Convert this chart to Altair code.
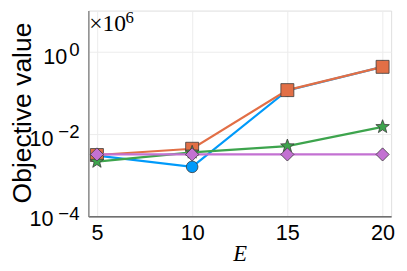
import altair as alt
import pandas as pd

# ---- data ----
E = [5, 10, 15, 20]
series_names = ["A", "B", "C", "D"]
blue = [3.0e-3, 1.6e-3, 0.115, 0.43]
orange = [3.1e-3, 4.4e-3, 0.117, 0.43]
green = [2.15e-3, 3.6e-3, 5.1e-3, 0.015]
purple = [3.2e-3, 3.2e-3, 3.2e-3, 3.2e-3]
series_values = [blue, orange, green, purple]

x_ticks = [5, 10, 15, 20]
y_tick_values = [1e-4, 1e-2, 1.0]
y_tick_base = "10"
y_tick_exponents = ["−4", "−2", "0"]
scale_note_base = "×10"
scale_note_exp = "6"

colors = ["#009AFA", "#E26F46", "#3DA44D", "#C371D2"]
STAR = ("M0,-1 L0.247,-0.340 L0.951,-0.309 L0.399,0.130 L0.588,0.809 "
        "L0,0.42 L-0.588,0.809 L-0.399,0.130 L-0.951,-0.309 L-0.247,-0.340 Z")
shapes = ["circle", "square", STAR, "diamond"]
sizes = [140, 175, 210, 180]

rows = []
for name, vals in zip(series_names, series_values):
    for e, v in zip(E, vals):
        rows.append({"E": e, "value": v, "series": name})
df = pd.DataFrame(rows)
ticks_df = pd.DataFrame({"value": y_tick_values, "exp": y_tick_exponents})
note_df = pd.DataFrame({"base": [scale_note_base], "exp": [scale_note_exp]})

SANS = "Liberation Sans"
SERIF = "Liberation Serif"

x_enc = alt.X("E:Q",
              scale=alt.Scale(domain=[4.55, 20.45], nice=False, zero=False),
              axis=alt.Axis(values=x_ticks, title="E", titleFont=SERIF,
                            titleFontStyle="italic", titleFontWeight="normal",
                            titleFontSize=23, titleY=45, titleBaseline="alphabetic",
                            titleColor="black",
                            labelFont=SANS, labelFontSize=22, labelColor="black",
                            labelPadding=7, ticks=False, tickSize=0,
                            domainColor="#222222", domainWidth=1,
                            gridColor="#ececec", gridWidth=1, labelFlush=False))
y_enc = alt.Y("value:Q",
              scale=alt.Scale(type="log", domain=[1e-4, 10], nice=False),
              axis=alt.Axis(values=y_tick_values, labelExpr=f"'{y_tick_base}'",
                            title="Objective value", titleFont=SANS,
                            titleFontSize=27, titleFontWeight="normal", titleColor="black",
                            titleX=-59, titleY=104, titleAngle=-90,
                            titleBaseline="alphabetic", titleAlign="center",
                            labelFont=SANS, labelFontSize=22, labelColor="black",
                            labelBaseline="alphabetic",
                            labelOffset={"condition": {"test": "datum.value < 0.001", "value": 9},
                                         "value": 12},
                            labelPadding={"condition": {"test": "datum.value >= 1", "value": 22},
                                          "value": 36},
                            ticks=False, tickSize=0, domainColor="#8a8a8a",
                            domainWidth=1.5, gridColor="#ececec", gridWidth=1,
                            labelFlush=False))

layers = []
for name, c, shp, sz in zip(series_names, colors, shapes, sizes):
    base = alt.Chart(df).transform_filter(alt.datum.series == name)
    layers.append(base.mark_line(color=c, strokeWidth=2.2).encode(x=x_enc, y=y_enc))
    layers.append(base.mark_point(shape=shp, filled=True, fill=c, opacity=1,
                                  stroke="#3a3a3a", strokeWidth=0.8, size=sz)
                  .encode(x=x_enc, y=y_enc))

# exponents of the y tick labels (superscripts)
exps = alt.Chart(ticks_df).mark_text(font=SANS, fontSize=19, align="right",
                                     baseline="alphabetic", dy=4, color="black").encode(
    y=y_enc, x=alt.value(-9), text="exp:N")

mult = alt.Chart(note_df).mark_text(font=SERIF, fontSize=24, align="left",
                                    baseline="alphabetic", color="black").encode(
    x=alt.value(1), y=alt.value(21), text="base:N")
exp6 = alt.Chart(note_df).mark_text(font=SERIF, fontSize=17, align="left",
                                    baseline="alphabetic", color="black").encode(
    x=alt.value(38), y=alt.value(13), text="exp:N")

chart = alt.layer(*layers, exps, mult, exp6).properties(
    width=309, height=210,
    autosize=alt.AutoSizeParams(type="none"),
    padding={"left": 82, "top": 0, "right": 8, "bottom": 50},
).configure_view(stroke=None).configure(background="white")

chart.save("out.html", embed_options={"renderer": "svg", "actions": False})
